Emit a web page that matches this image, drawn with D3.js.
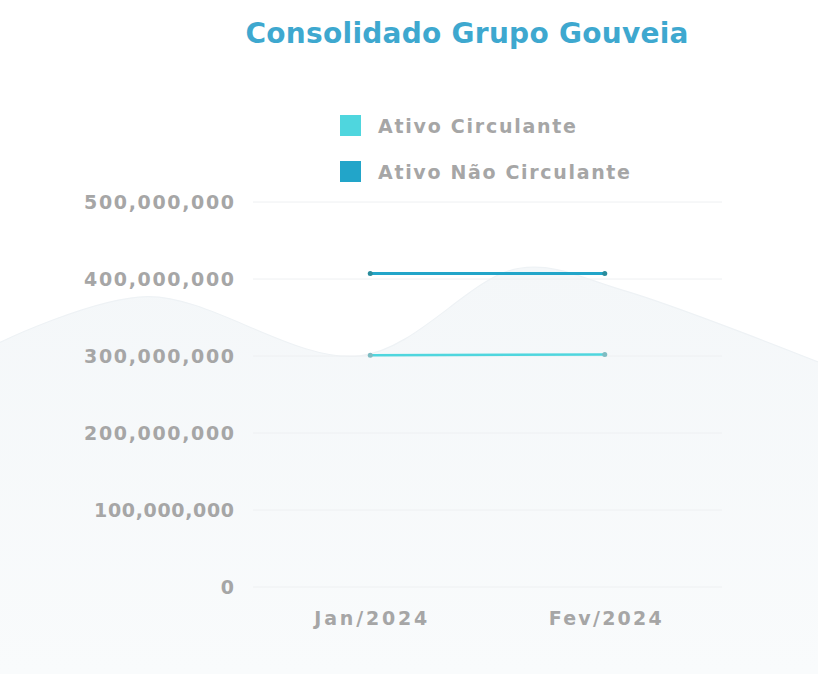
<!DOCTYPE html>
<html><head><meta charset="utf-8">
<script src="https://cdn.jsdelivr.net/npm/d3@7"></script>
<style>
html,body{margin:0;padding:0;background:#fff;}
svg{display:block;font-family:"DejaVu Sans",sans-serif;}
</style></head>
<body><svg id="chart" width="818" height="674"></svg>
<script>
const title = "Consolidado Grupo Gouveia";
const categories = ["Jan/2024", "Fev/2024"];
const seriesNames = ["Ativo Circulante", "Ativo Não Circulante"];
const ativoCirculante = [301000000, 302000000];
const ativoNaoCirculante = [407000000, 407000000];
const yTicks = [0, 100000000, 200000000, 300000000, 400000000, 500000000];
const colors = ["#4fd6de", "#22a5c9"];

const svg = d3.select("#chart");
const W = 818, H = 674;
const m = {left: 253, right: 96, top: 202, bottom: 87};
const FONT = "'DejaVu Sans', sans-serif";
const GREY = "#a6a6a6";

// decorative background wave (relative to the page)
const wave = [[0,0.508],[0.18,0.44],[0.44,0.528],[0.635,0.398],[0.76,0.43],[1,0.537]];
const defs = svg.append("defs");
const g1 = defs.append("linearGradient").attr("id","bg").attr("x1",0).attr("y1",0).attr("x2",0).attr("y2",1);
g1.append("stop").attr("offset","0%").attr("stop-color","#f4f7f9");
g1.append("stop").attr("offset","100%").attr("stop-color","#f9fbfc");
const areaGen = d3.area().x(d=>d[0]*W).y0(H).y1(d=>d[1]*H).curve(d3.curveCatmullRom);
svg.append("path").datum(wave).attr("d", areaGen).attr("fill","url(#bg)");
svg.append("path").datum(wave).attr("d", d3.line().x(d=>d[0]*W).y(d=>d[1]*H).curve(d3.curveCatmullRom))
  .attr("fill","none").attr("stroke","#eef2f5").attr("stroke-width",1.2);

const x = d3.scalePoint().domain(categories).range([m.left, W - m.right]).padding(0.5);
const y = d3.scaleLinear().domain([0, 500000000]).range([H - m.bottom, m.top]);

// gridlines
svg.append("g").selectAll("line").data(yTicks).join("line")
  .attr("x1", m.left).attr("x2", W - m.right)
  .attr("y1", d=>y(d)).attr("y2", d=>y(d))
  .attr("stroke","#eef0f2").attr("stroke-width",1);

// y axis
const fmt = d3.format(",");
const yAxis = svg.append("g").attr("transform",`translate(${m.left - 16},0)`)
  .call(d3.axisLeft(y).tickValues(yTicks).tickFormat(fmt).tickSize(0));
yAxis.select(".domain").remove();
yAxis.selectAll("text").attr("fill",GREY).attr("font-size",19).attr("font-weight",700)
  .attr("font-family",FONT)
  .each(function(d){ const s=fmt(d); if(s.length>1){ d3.select(this).attr("textLength", d===100000000?140:150).attr("lengthAdjust","spacing"); } });

// x axis
const xAxis = svg.append("g").attr("transform",`translate(0,${H - m.bottom + 21})`)
  .call(d3.axisBottom(x).tickSize(0));
xAxis.select(".domain").remove();
xAxis.selectAll("text").attr("fill",GREY).attr("font-size",19).attr("font-weight",700)
  .attr("font-family",FONT).attr("dy","0.71em")
  .attr("textLength",113).attr("lengthAdjust","spacing");

// lines
const series = [ativoCirculante, ativoNaoCirculante];
const line = d3.line().x((d,i)=>x(categories[i])).y(d=>y(d));
series.forEach((vals, si) => {
  svg.append("path").datum(vals).attr("d", line)
    .attr("fill","none").attr("stroke", colors[si]).attr("stroke-width", si===1?3:2.5);
  svg.append("g").selectAll("circle").data(vals).join("circle")
    .attr("cx",(d,i)=>x(categories[i])).attr("cy",d=>y(d)).attr("r",2.5)
    .attr("fill", si===1 ? "#2a8c9c" : "#7fbcc2");
});

// title
svg.append("text").attr("x", 467).attr("y", 43).attr("text-anchor","middle")
  .attr("font-size",28).attr("font-weight",700).attr("fill","#3ea8cf")
  .attr("font-family",FONT).attr("textLength",443).attr("lengthAdjust","spacing").text(title);

// legend
const legendWidths = [198, 252];
const leg = svg.append("g").attr("transform","translate(340,115)");
seriesNames.forEach((n,i)=>{
  const gi = leg.append("g").attr("transform",`translate(0,${i*46})`);
  gi.append("rect").attr("width",21).attr("height",21).attr("fill",colors[i]);
  gi.append("text").attr("x",38).attr("y",11).attr("dy","0.35em")
    .attr("font-size",19).attr("font-weight",700).attr("fill",GREY)
    .attr("font-family",FONT).attr("textLength",legendWidths[i]).attr("lengthAdjust","spacing").text(n);
});
</script></body></html>
